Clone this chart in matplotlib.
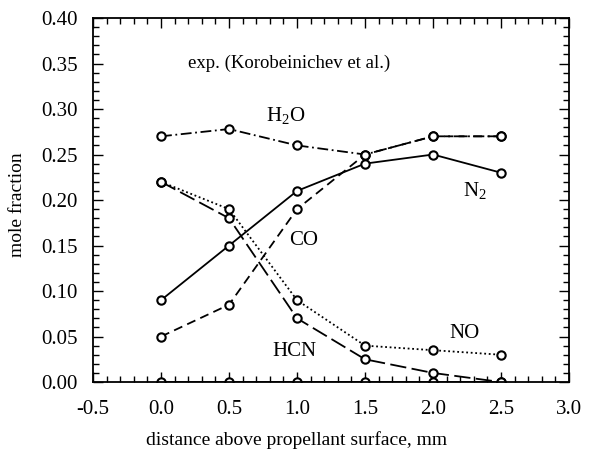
import matplotlib
matplotlib.use("Agg")
import matplotlib.pyplot as plt
from matplotlib.ticker import MultipleLocator

plt.rcParams['font.family'] = ['Liberation Serif', 'DejaVu Serif']
plt.rcParams['mathtext.fontset'] = 'custom'
plt.rcParams['mathtext.rm'] = 'Liberation Serif'

x = [0.0, 0.5, 1.0, 1.5, 2.0, 2.5]
h2o = [0.27, 0.278, 0.26, 0.25, 0.27, 0.27]
co = [0.05, 0.085, 0.19, 0.25, 0.27, 0.27]
n2 = [0.09, 0.15, 0.21, 0.24, 0.25, 0.23]
no = [0.22, 0.19, 0.09, 0.04, 0.035, 0.03]
hcn = [0.22, 0.18, 0.07, 0.025, 0.01, 0.0]
zero = [0.0, 0.0, 0.0, 0.0, 0.0, 0.0]

fig = plt.figure(figsize=(5.94, 4.5), dpi=100)
ax = fig.add_axes([0.1566, 0.151, 0.8014, 0.809])

mk = dict(marker='o', markersize=6, markerfacecolor='white', markeredgecolor='black',
          markeredgewidth=1.5, color='black', linewidth=1.3)
ax.plot(x, zero, linestyle='-', **mk)
ax.plot(x, hcn, linestyle=(0, (9, 3)), **mk)
ax.plot(x, no, linestyle=(0, (1, 1.5)), **mk)
ax.plot(x, co, linestyle=(0, (5, 3)), **mk)
ax.plot(x, h2o, linestyle=(0, (6, 2, 1, 2)), **mk)
ax.plot(x, n2, linestyle='-', **mk)

fs = 15
ax.text(0.2, 0.35, 'exp. (Korobeinichev et al.)', fontsize=13.5, va='center')
ax.text(0.77, 0.292, r'H$_2$O', fontsize=fs, va='center')
ax.text(2.22, 0.210, r'N$_2$', fontsize=fs, va='center')
ax.text(0.94, 0.155, 'CO', fontsize=fs, va='center')
ax.text(2.12, 0.053, 'NO', fontsize=fs, va='center')
ax.text(0.82, 0.034, 'HCN', fontsize=fs, va='center')

ax.set_xlim(-0.5, 3.0)
ax.set_ylim(0.0, 0.40)
ax.xaxis.set_major_locator(MultipleLocator(0.5))
ax.xaxis.set_minor_locator(MultipleLocator(0.1))
ax.yaxis.set_major_locator(MultipleLocator(0.05))
ax.yaxis.set_minor_locator(MultipleLocator(0.01))
ax.xaxis.set_major_formatter(plt.FuncFormatter(lambda v, p: f'{v:.1f}'))
ax.yaxis.set_major_formatter(plt.FuncFormatter(lambda v, p: f'{v:.2f}'))
ax.tick_params(which='both', direction='in', top=True, right=True, labelsize=15, width=1.0)
ax.tick_params(axis='x', which='major', pad=13)
ax.tick_params(axis='y', which='major', pad=11)
ax.tick_params(which='major', length=7)
ax.tick_params(which='minor', length=4)
for s in ax.spines.values():
    s.set_linewidth(1.3)
fig.text(297 / 594, 1 - 440 / 450, 'distance above propellant surface, mm',
         fontsize=14, ha='center', va='center')
fig.text(18 / 594, 1 - 205 / 450, 'mole fraction', fontsize=14,
         ha='center', va='center', rotation=90)

fig.savefig('out.png', dpi=100)
